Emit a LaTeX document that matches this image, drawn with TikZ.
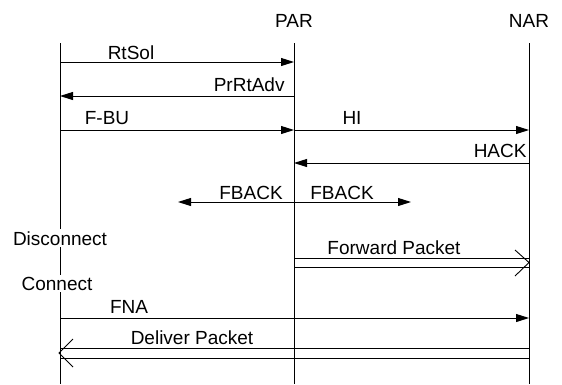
\documentclass[tikz,border=0pt]{standalone}
\usepackage{fontspec}
\setmainfont{Liberation Sans}
\usetikzlibrary{arrows.meta}

\begin{document}
\begin{tikzpicture}[x=1pt,y=-1pt,line width=0.9pt,
    msg/.style={-{Triangle[length=13pt,width=8pt]}},
    lbl/.style={anchor=base,inner sep=0pt,font=\fontsize{19}{22}\selectfont},
    statelbl/.style={lbl,fill=white,inner sep=2pt}]

\useasboundingbox (0,0) rectangle (562,384);

% Draw the lifelines
\foreach \n/\x in {ms/60,par/294,nar/529} {
    \coordinate (\n top) at (\x,43);
    \coordinate (\n bot) at (\x,384);
    \draw (\n top) -- (\n bot);
}

% Add the entity names
\node[lbl] (par) at (294,27) {PAR};
\node[lbl] (nar) at (529,27) {NAR};

% Points where the messages meet the lifelines
\foreach \n/\y in {rtsol/62,prrtadv/96,fbu/130,hack/163,fback/202,fwdup/258,fwdlo/267,fna/318,dlvup/348,dlvlo/358} {
    \coordinate (ms \n) at (60,\y);
    \coordinate (par \n) at (294,\y);
    \coordinate (nar \n) at (529,\y);
}
\coordinate (fback left) at (178,202);
\coordinate (fback right) at (411,202);

% Draw the signalling messages
\draw[msg] (ms rtsol) -- (par rtsol);
\draw[msg] (par prrtadv) -- (ms prrtadv);
\draw[msg] (ms fbu) -- (par fbu);
\draw[msg] (par fbu) -- (nar fbu);
\draw[msg] (nar hack) -- (par hack);
\draw[msg] (par fback) -- (fback left);
\draw[msg] (par fback) -- (fback right);
\draw[msg] (ms fna) -- (nar fna);

% Draw the packet flows (double lines)
\coordinate (fwd tip) at (529,262.5);
\coordinate (fwd arm a) at (515,250);
\coordinate (fwd arm b) at (515,276);
\draw (par fwdup) -- (nar fwdup);
\draw (par fwdlo) -- (nar fwdlo);
\draw (fwd arm a) -- (fwd tip) -- (fwd arm b);

\coordinate (dlv tip) at (59,353);
\coordinate (dlv arm a) at (73,339);
\coordinate (dlv arm b) at (73,367);
\draw (nar dlvup) -- (ms dlvup);
\draw (nar dlvlo) -- (ms dlvlo);
\draw (dlv arm a) -- (dlv tip) -- (dlv arm b);

% Add the message labels
\node[lbl] (rtsol) at (131,59) {RtSol};
\node[lbl,anchor=base east] (prrtadv) at (285,91) {PrRtAdv};
\node[lbl] (fbu) at (107,124) {F-BU};
\node[lbl] (hi) at (352,124) {HI};
\node[lbl,anchor=base east] (hack) at (527,157) {HACK};
\node[lbl] (fback l) at (251,199) {FBACK};
\node[lbl] (fback r) at (342,199) {FBACK};
\node[lbl] (fwd) at (394,254) {Forward Packet};
\node[lbl] (fna) at (129,313) {FNA};
\node[lbl] (dlv) at (192,344) {Deliver Packet};

% Add the link states on the mobile's lifeline
\node[statelbl] (disc) at (60,245) {Disconnect};
\node[statelbl] (conn) at (57,290) {Connect};

\end{tikzpicture}
\end{document}
